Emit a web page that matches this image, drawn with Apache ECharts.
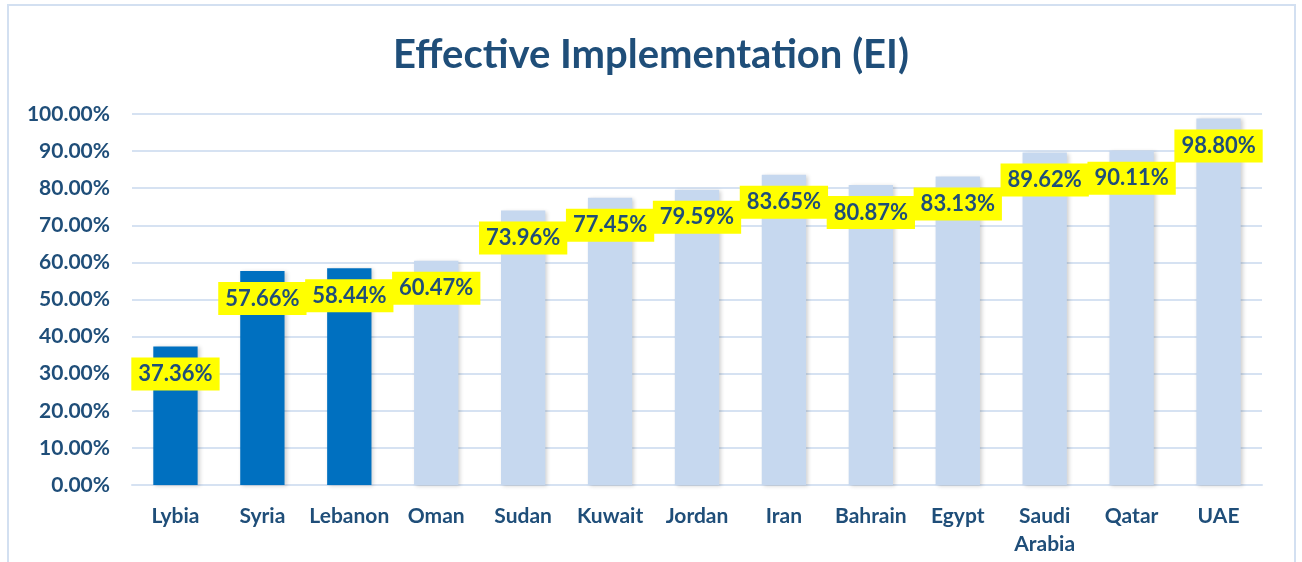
<!DOCTYPE html>
<html>
<head>
<meta charset="utf-8">
<script src="https://cdn.jsdelivr.net/npm/echarts@6/dist/echarts.min.js"></script>
<style>
  html, body { margin: 0; padding: 0; background: #fff; }
  #chart { width: 1302px; height: 562px; }
</style>
</head>
<body>
<div id="chart"></div>
<script>
const countries = ["Lybia", "Syria", "Lebanon", "Oman", "Sudan", "Kuwait", "Jordan", "Iran", "Bahrain", "Egypt", "Saudi\nArabia", "Qatar", "UAE"];
const eiValues = [37.36, 57.66, 58.44, 60.47, 73.96, 77.45, 79.59, 83.65, 80.87, 83.13, 89.62, 90.11, 98.80];
// first three countries are highlighted in dark blue
const highlightCount = 3;

const navy = "#1F4E79";
const myChart = echarts.init(document.getElementById("chart"));

myChart.setOption({
  animation: false,
  textStyle: { fontFamily: "Lato" },
  title: {
    text: "Effective Implementation (EI)",
    left: "center",
    top: 30,
    textStyle: { fontSize: 40, fontWeight: "bold", color: navy, fontFamily: "Lato" },
  },
  graphic: [
    {
      type: "rect",
      shape: { x: 8, y: 5, width: 1287, height: 620 },
      style: { fill: "none", stroke: "#D3E0F1", lineWidth: 2 },
      silent: true,
    },
  ],
  grid: { left: 132, right: 40, top: 114, bottom: 77 },
  xAxis: {
    type: "category",
    data: countries,
    axisTick: { show: false },
    axisLine: { lineStyle: { color: "#D6E2F2", width: 2 } },
    axisLabel: {
      interval: 0,
      margin: 17,
      fontSize: 21,
      lineHeight: 28,
      fontWeight: "bold",
      color: navy,
      verticalAlign: "top",
    },
  },
  yAxis: {
    type: "value",
    min: 0,
    max: 100,
    interval: 10,
    axisLine: { show: false },
    axisTick: { show: false },
    splitLine: { lineStyle: { color: "#D6E2F2", width: 2 } },
    axisLabel: {
      margin: 22,
      fontSize: 21,
      fontWeight: "bold",
      color: navy,
      formatter: (v) => v.toFixed(2) + "%",
    },
  },
  series: [
    {
      type: "bar",
      barWidth: "51%",
      data: eiValues.map((v, i) => ({
        value: v,
        itemStyle: { color: i < highlightCount ? "#0070C0" : "#C6D8EF" },
      })),
      itemStyle: {
        shadowBlur: 4,
        shadowColor: "rgba(0,0,0,0.18)",
        shadowOffsetX: 2,
        shadowOffsetY: 1,
      },
      label: {
        show: true,
        position: "insideTop",
        distance: 11,
        backgroundColor: "#FFFF00",
        padding: [4, 7, 4, 7],
        fontSize: 22,
        lineHeight: 25,
        fontWeight: "bold",
        color: navy,
        formatter: (p) => p.value.toFixed(2) + "%",
      },
    },
  ],
});
</script>
</body>
</html>
